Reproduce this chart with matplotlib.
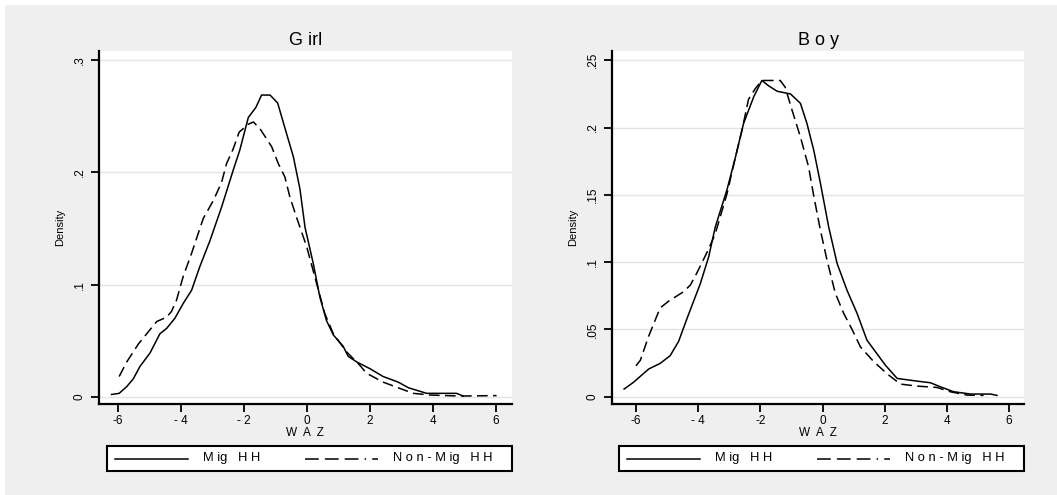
import matplotlib
matplotlib.use("Agg")
import matplotlib.pyplot as plt
from matplotlib.lines import Line2D
from matplotlib.patches import Rectangle

plt.rcParams['font.family'] = ['Liberation Sans', 'DejaVu Sans']

# ---- data ----
girl_mig_x = [-6.19, -5.95, -5.71, -5.50, -5.29, -4.97, -4.66, -4.44, -4.18, -3.92, -3.65, -3.39,
              -3.07, -2.70, -2.33, -2.12, -1.85, -1.61, -1.43, -1.16, -0.92, -0.63, -0.42, -0.21,
              -0.05, 0.21, 0.42, 0.63, 0.85, 1.16, 1.32, 1.59, 2.01, 2.43, 2.91, 3.23, 3.81, 4.76, 4.97]
girl_mig_y = [0.002, 0.003, 0.009, 0.016, 0.027, 0.039, 0.056, 0.061, 0.070, 0.083, 0.095, 0.116,
              0.139, 0.169, 0.202, 0.220, 0.249, 0.258, 0.269, 0.269, 0.262, 0.234, 0.214, 0.185,
              0.151, 0.119, 0.089, 0.068, 0.055, 0.045, 0.036, 0.031, 0.025, 0.018, 0.013, 0.008,
              0.003, 0.003, 0.0006]

girl_non_x = [-5.95, -5.71, -5.34, -5.08, -4.76, -4.44, -4.29, -4.13, -3.92, -3.65, -3.28, -2.96,
              -2.70, -2.54, -2.33, -2.14, -1.85, -1.69, -1.48, -1.11, -0.90, -0.69, -0.53, -0.32,
              0.00, 0.26, 0.58, 0.85, 1.27, 1.69, 1.90, 2.43, 2.96, 3.39, 3.92, 4.87, 6.03]
girl_non_y = [0.018, 0.031, 0.047, 0.056, 0.067, 0.071, 0.076, 0.086, 0.107, 0.128, 0.159, 0.175,
              0.191, 0.208, 0.221, 0.236, 0.243, 0.245, 0.239, 0.223, 0.208, 0.196, 0.178, 0.160,
              0.134, 0.107, 0.074, 0.056, 0.040, 0.028, 0.021, 0.013, 0.0074, 0.003, 0.0015,
              0.0006, 0.001]

boy_mig_x = [-6.38, -6.08, -5.59, -5.22, -4.90, -4.63, -4.36, -3.93, -3.66, -3.45, -3.07, -2.80,
             -2.54, -2.21, -1.95, -1.73, -1.46, -1.03, -0.71, -0.50, -0.28, -0.07, 0.20, 0.47,
             0.79, 1.11, 1.43, 1.75, 2.02, 2.40, 3.04, 3.47, 3.79, 4.22, 4.76, 5.40, 5.61]
boy_mig_y = [0.0057, 0.0107, 0.0206, 0.0248, 0.0305, 0.041, 0.058, 0.084, 0.104, 0.126, 0.154,
             0.178, 0.203, 0.223, 0.235, 0.231, 0.227, 0.225, 0.218, 0.203, 0.183, 0.159, 0.126,
             0.099, 0.079, 0.062, 0.042, 0.032, 0.0235, 0.0136, 0.0116, 0.0104, 0.0074, 0.0037,
             0.002, 0.002, 0.001]

boy_non_x = [-6.00, -5.86, -5.59, -5.38, -5.22, -4.95, -4.47, -4.25, -4.04, -3.72, -3.45, -3.07,
             -2.80, -2.59, -2.38, -2.16, -1.95, -1.36, -1.20, -0.98, -0.71, -0.45, -0.28, -0.07,
             0.14, 0.41, 0.68, 0.95, 1.22, 1.65, 2.08, 2.50, 3.04, 3.68, 4.11, 4.65, 5.18]
boy_non_y = [0.023, 0.027, 0.045, 0.057, 0.066, 0.071, 0.078, 0.083, 0.092, 0.107, 0.121, 0.151,
             0.178, 0.198, 0.221, 0.229, 0.235, 0.235, 0.230, 0.213, 0.193, 0.171, 0.149, 0.124,
             0.102, 0.077, 0.062, 0.050, 0.037, 0.026, 0.017, 0.0094, 0.0079, 0.0069, 0.0037,
             0.0012, 0.001]

titles = ["G irl", "B o y"]
x_ticks = [-6, -4, -2, 0, 2, 4, 6]
x_ticklabels_girl = ["-6", "- 4", "- 2", "0", "2", "4", "6"]
x_ticklabels_boy = ["-6", "- 4", "-2", "0", "2", "4", "6"]
y_ticks_girl = [0, 0.1, 0.2, 0.3]
y_ticklabels_girl = ["0", ".1", ".2", ".3"]
y_ticks_boy = [0, 0.05, 0.1, 0.15, 0.2, 0.25]
y_ticklabels_boy = ["0", ".05", ".1", ".15", ".2", ".25"]
legend_labels = ["M ig   H H", "N o n - M ig   H H"]

W, H = 1057, 495
fig = plt.figure(figsize=(W / 100, H / 100), dpi=100, facecolor="white")
fig.patches.append(Rectangle((5 / W, 0), 1 - 5 / W, 1 - 5 / H, transform=fig.transFigure,
                             facecolor="#efefef", edgecolor="none", zorder=-10))

dash = (0, (7, 3.5))
leg_dash = (0, (9, 4, 9, 4, 9, 4, 1, 4))
GRAY = "#e4e4e4"


def fx(px):
    return px / W


def fy(py):
    return 1 - py / H


def make_panel(left, right, xlim, ylim, mx, my, nx, ny, title, xtl, yt, ytl, box_left):
    top, bottom = 51, 404
    ax = fig.add_axes([fx(left), fy(bottom), (right - left) / W, (bottom - top) / H])
    ax.set_facecolor("white")
    ax.plot(mx, my, color="black", lw=1.1, solid_joinstyle="round")
    ax.plot(nx, ny, color="black", lw=1.1, linestyle=dash)
    ax.set_xlim(*xlim)
    ax.set_ylim(*ylim)
    ax.set_xticks(x_ticks)
    ax.set_xticklabels(xtl, fontsize=8.5)
    ax.set_yticks(yt)
    ax.set_yticklabels(ytl, fontsize=8.5, rotation=90, va="center")
    for t in yt:
        ax.axhline(t, color=GRAY, lw=1.0, zorder=0)
    for s in ["top", "right"]:
        ax.spines[s].set_visible(False)
    ax.spines["left"].set_linewidth(1.6)
    ax.spines["bottom"].set_linewidth(1.6)
    ax.tick_params(length=6, width=1.3, colors="black")
    ax.tick_params(axis="x", pad=2)
    ax.set_title(title, fontsize=13, pad=4)
    ax.set_xlabel("W  A  Z", fontsize=8.5, labelpad=0)
    ax.set_ylabel("Density", fontsize=8, labelpad=6)

    # legend box (drawn manually to match the reference layout)
    bt, bb, bw = 446, 471, 405
    fig.patches.append(Rectangle((fx(box_left), fy(bb)), bw / W, (bb - bt) / H,
                                 transform=fig.transFigure, facecolor="white",
                                 edgecolor="black", lw=1.5, zorder=5))
    ym = fy(458.5)
    fig.add_artist(Line2D([fx(box_left + 8), fx(box_left + 81)], [ym, ym],
                          color="black", lw=1.1, zorder=6))
    fig.text(fx(box_left + 96), ym, legend_labels[0], fontsize=9.3, va="center", ha="left", zorder=6)
    fig.add_artist(Line2D([fx(box_left + 198), fx(box_left + 271)], [ym, ym],
                          color="black", lw=1.1, linestyle=leg_dash, zorder=6))
    fig.text(fx(box_left + 286), ym, legend_labels[1], fontsize=9.3, va="center", ha="left", zorder=6)
    return ax


make_panel(99, 512, (-6.59, 6.52), (-0.0065, 0.3083), girl_mig_x, girl_mig_y,
           girl_non_x, girl_non_y, titles[0], x_ticklabels_girl, y_ticks_girl, y_ticklabels_girl, 107)
make_panel(612, 1024, (-6.77, 6.48), (-0.0054, 0.2569), boy_mig_x, boy_mig_y,
           boy_non_x, boy_non_y, titles[1], x_ticklabels_boy, y_ticks_boy, y_ticklabels_boy, 619)

fig.savefig("out.png", dpi=100, facecolor=fig.get_facecolor())
